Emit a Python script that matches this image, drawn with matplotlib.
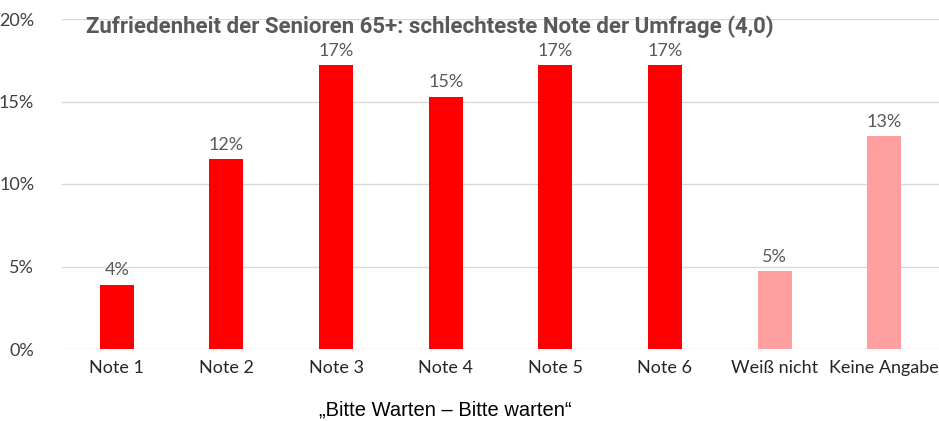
import matplotlib
matplotlib.use("Agg")
import matplotlib.pyplot as plt

categories = ["Note 1", "Note 2", "Note 3", "Note 4", "Note 5", "Note 6", "Weiß nicht", "Keine Angabe"]
values = [3.9, 11.5, 17.2, 15.3, 17.2, 17.2, 4.7, 12.9]
labels = ["4%", "12%", "17%", "15%", "17%", "17%", "5%", "13%"]
yticks = [0, 5, 10, 15, 20]
ytick_labels = ["0%", "5%", "10%", "15%", "20%"]

colors = ["#FF0000"] * 6 + ["#FF9F9F"] * 2

fig = plt.figure(figsize=(9.39, 4.21), dpi=100)
ax = fig.add_axes([62/939, 1-349/421, 1-62/939, (349-19)/421])
x = list(range(len(categories)))
ax.bar(x, values, width=0.31, color=colors, zorder=2)
for xi, v, lab in zip(x, values, labels):
    ax.text(xi, v + 0.4, lab, ha="center", va="bottom", fontsize=13, color="#595959", family="Lato")

ax.set_xlim(-0.5, len(categories) - 0.5)
ax.set_ylim(0, 20)
ax.set_yticks(yticks)
ax.set_yticklabels(ytick_labels, fontsize=13, color="#404040", family="Lato")
ax.set_xticks(x)
ax.set_xticklabels(categories, fontsize=13, color="#262626", family="Lato")
ax.tick_params(axis="both", length=0, pad=8)
ax.tick_params(axis="y", pad=20)
ax.grid(axis="y", color="#D9D9D9", linewidth=1, zorder=0)
for s in ax.spines.values():
    s.set_visible(False)

fig.text(430/939, 1-27/421, "Zufriedenheit der Senioren 65+: schlechteste Note der Umfrage (4,0)",
         ha="center", va="center", fontsize=16, fontweight="bold", color="#595959", family="Roboto")
fig.text(445/939, 1-410/421, "„Bitte Warten – Bitte warten“", ha="center", va="center",
         fontsize=14.5, color="#000000", family="Liberation Sans")

fig.savefig("out.png", dpi=100)
